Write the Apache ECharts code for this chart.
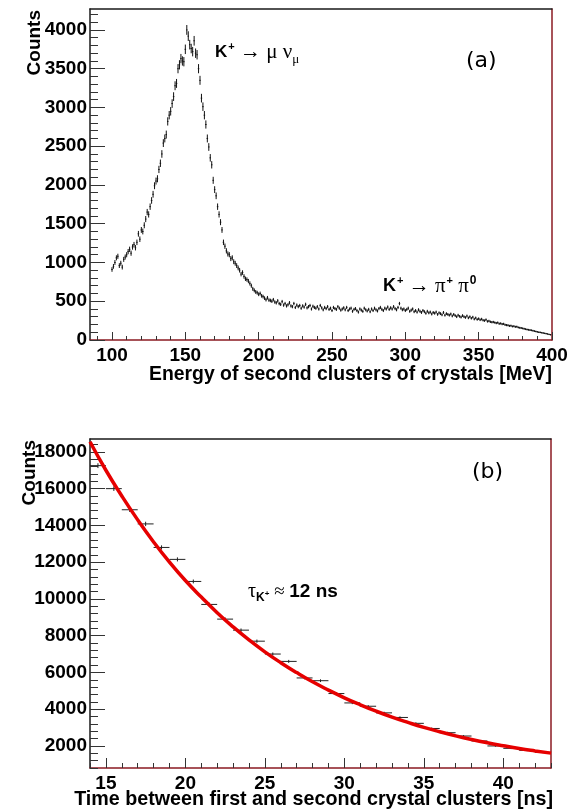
<!DOCTYPE html>
<html>
<head>
<meta charset="utf-8">
<script src="https://cdn.jsdelivr.net/npm/echarts@6/dist/echarts.min.js"></script>
<style>
html,body{margin:0;padding:0;background:#fff;}
#chart{width:574px;height:812px;}
</style>
</head>
<body>
<div id="chart"></div>
<script>
// ---------- Panel (a): energy spectrum, 1 MeV bins starting at 100 MeV ----------
const energyStart = 100;
const energyBinWidth = 1;
const energyCounts = [
  910, 950, 1000, 1060, 1080, 960, 990, 940, 1040, 1070,
  1100, 1140, 1170, 1120, 1200, 1230, 1190, 1260, 1370, 1300,
  1420, 1400, 1480, 1560, 1650, 1620, 1720, 1800, 1880, 1990,
  2050, 2080, 2200, 2280, 2400, 2540, 2600, 2650, 2820, 2900,
  2950, 3050, 3140, 3280, 3310, 3500, 3550, 3630, 3600, 3590,
  3750, 4000, 3920, 3810, 3760, 3720, 3860, 3700, 3680, 3500,
  3350, 3120, 3010, 2900, 2780, 2600, 2490, 2350, 2260, 2060,
  1940, 1860, 1720, 1620, 1520, 1420, 1260, 1210, 1150, 1110,
  1100, 1050, 1060, 1010, 990, 960, 930, 900, 850, 870,
  820, 790, 780, 760, 730, 700, 660, 640, 620, 610,
  590, 600, 570, 560, 540, 520, 545, 515, 510, 500,
  520, 490, 480, 505, 470, 460, 495, 450, 470, 440,
  455, 480, 440, 430, 470, 420, 450, 430, 445, 410,
  440, 425, 460, 415, 430, 445, 400, 435, 420, 410,
  430, 400, 445, 415, 390, 420, 405, 430, 395, 410,
  380, 420, 405, 395, 430, 410, 385, 400, 415, 390,
  420, 380, 400, 410, 370, 395, 405, 380, 360, 400,
  385, 370, 410, 390, 375, 395, 365, 400, 380, 410,
  390, 375, 405, 420, 395, 380, 410, 400, 425, 395,
  415, 400, 430, 405, 390, 420, 470, 410, 390, 400,
  380, 395, 410, 370, 385, 400, 365, 380, 360, 390,
  370, 355, 380, 365, 345, 370, 350, 360, 335, 355,
  345, 360, 330, 350, 340, 325, 355, 320, 340, 330,
  320, 335, 310, 330, 315, 300, 320, 305, 295, 315,
  300, 290, 310, 285, 300, 280, 295, 270, 285, 265,
  275, 260, 270, 255, 250, 262, 240, 245, 235, 230,
  232, 225, 218, 224, 210, 214, 205, 208, 196, 192,
  190, 182, 185, 175, 178, 170, 172, 162, 158, 155,
  150, 145, 140, 135, 132, 128, 125, 120, 115, 110,
  105, 100, 98, 94, 90, 86, 82, 78, 72, 68
];
const energyTicks = [100, 150, 200, 250, 300, 350, 400];
const countsTicksA = [0, 500, 1000, 1500, 2000, 2500, 3000, 3500, 4000];

// ---------- Panel (b): time between clusters, 1 ns bins ----------
const timeBinCenters = [14.5, 15.5, 16.5, 17.5, 18.5, 19.5, 20.5, 21.5, 22.5, 23.5,
  24.5, 25.5, 26.5, 27.5, 28.5, 29.5, 30.5, 31.5, 32.5, 33.5,
  34.5, 35.5, 36.5, 37.5, 38.5, 39.5, 40.5, 41.5, 42.5];
const timeCounts = [17250, 16000, 14850, 14080, 12800, 12150, 10950, 9700, 8900, 8300,
  7700, 7000, 6600, 5700, 5550, 4850, 4340, 4160, 3800, 3550,
  3230, 2950, 2720, 2540, 2270, 2000, 1870, 1760, 1650];
const fitTimes = [14, 15, 16, 17, 18, 19, 20, 21, 22, 23, 24, 25, 26, 27, 28, 29,
  30, 31, 32, 33, 34, 35, 36, 37, 38, 39, 40, 41, 42, 43];
const fitCounts = [18550, 17000, 15600, 14300, 13100, 12000, 11000, 10100, 9250, 8480,
  7770, 7120, 6530, 5990, 5490, 5040, 4620, 4240, 3890, 3570,
  3280, 3010, 2770, 2550, 2350, 2170, 2010, 1860, 1730, 1610];
const timeTicks = [15, 20, 25, 30, 35, 40];
const countsTicksB = [2000, 4000, 6000, 8000, 10000, 12000, 14000, 16000, 18000];

// ---------- helpers ----------
function minorBetween(lo, hi, step, majors) {
  const out = [];
  for (let v = lo; v <= hi + 1e-9; v += step) {
    const r = Math.round(v * 1000) / 1000;
    if (!majors.some(m => Math.abs(m - r) < 1e-6)) out.push(r);
  }
  return out;
}
const energyMinor = minorBetween(90, 400, 10, energyTicks);
const countsMinorA = minorBetween(100, 4200, 100, countsTicksA);
const timeMinor = minorBetween(14, 43, 1, timeTicks);
const countsMinorB = minorBetween(800, 18600, 400, countsTicksB);

const FRAME_DARK = '#1a1a1a';
const FRAME_RED = '#8b1a22';
const LABEL_FONT = {fontFamily: 'Liberation Sans', fontWeight: 'bold', fontSize: 19, color: '#000',
  formatter: function (v) { return String(v); }};

function xAxes(grid, min, max, majors, minors, majorLen, minorLen) {
  return [
    {type: 'value', gridIndex: grid, min: min, max: max, position: 'bottom',
     axisLine: {show: true, onZero: false, lineStyle: {color: FRAME_RED, width: 1.5}},
     axisTick: {show: true, inside: true, length: majorLen, customValues: majors, lineStyle: {color: '#333', width: 1}},
     axisLabel: Object.assign({customValues: majors, margin: 6}, LABEL_FONT),
     splitLine: {show: false}},
    {type: 'value', gridIndex: grid, min: min, max: max, position: 'bottom',
     axisLine: {show: false},
     axisTick: {show: true, inside: true, length: minorLen, customValues: minors, lineStyle: {color: '#333', width: 1}},
     axisLabel: {show: false}, splitLine: {show: false}},
    {type: 'value', gridIndex: grid, min: min, max: max, position: 'top',
     axisLine: {show: true, onZero: false, lineStyle: {color: FRAME_DARK, width: 1.5}},
     axisTick: {show: false}, axisLabel: {show: false}, splitLine: {show: false}}
  ];
}
function yAxes(grid, min, max, majors, minors, majorLen, minorLen) {
  return [
    {type: 'value', gridIndex: grid, min: min, max: max, position: 'left',
     axisLine: {show: true, onZero: false, lineStyle: {color: FRAME_DARK, width: 1.5}},
     axisTick: {show: true, inside: true, length: majorLen, customValues: majors, lineStyle: {color: '#333', width: 1}},
     axisLabel: Object.assign({customValues: majors, margin: 3}, LABEL_FONT),
     splitLine: {show: false}},
    {type: 'value', gridIndex: grid, min: min, max: max, position: 'left',
     axisLine: {show: false},
     axisTick: {show: true, inside: true, length: minorLen, customValues: minors, lineStyle: {color: '#333', width: 1}},
     axisLabel: {show: false}, splitLine: {show: false}},
    {type: 'value', gridIndex: grid, min: min, max: max, position: 'right',
     axisLine: {show: true, onZero: false, lineStyle: {color: FRAME_RED, width: 1.5}},
     axisTick: {show: false}, axisLabel: {show: false}, splitLine: {show: false}}
  ];
}

function errorBars(color, lw) {
  return function (params, api) {
    const x = api.value(0), y = api.value(1), ex = api.value(2), ey = api.value(3);
    const a = api.coord([x - ex, y]), b = api.coord([x + ex, y]);
    const c = api.coord([x, y - ey]), d = api.coord([x, y + ey]);
    return {
      type: 'group',
      children: [
        {type: 'line', shape: {x1: a[0], y1: a[1], x2: b[0], y2: b[1]}, style: {stroke: color, lineWidth: lw}},
        {type: 'line', shape: {x1: c[0], y1: c[1], x2: d[0], y2: d[1]}, style: {stroke: color, lineWidth: lw}}
      ]
    };
  };
}

const energyData = energyCounts.map((n, i) => [energyStart + i * energyBinWidth, n, energyBinWidth / 2, Math.sqrt(n)]);
const timeData = timeCounts.map((n, i) => [timeBinCenters[i], n, 0.5, Math.sqrt(n)]);
const fitData = fitTimes.map((t, i) => [t, fitCounts[i]]);

const chart = echarts.init(document.getElementById('chart'), null, {renderer: 'canvas'});

const serif = 'Liberation Serif';
const sans = 'Liberation Sans';

chart.setOption({
  animation: false,
  backgroundColor: '#fff',
  grid: [
    {left: 90, top: 9, width: 462, height: 331},
    {left: 90, top: 439, width: 461, height: 329}
  ],
  xAxis: [].concat(
    xAxes(0, 85, 400, energyTicks, energyMinor, 8, 4),
    xAxes(1, 14, 43, timeTicks, timeMinor, 10, 5)
  ),
  yAxis: [].concat(
    yAxes(0, 0, 4270, countsTicksA, countsMinorA, 15, 8),
    yAxes(1, 800, 18700, countsTicksB, countsMinorB, 15, 8)
  ),
  series: [
    {type: 'custom', xAxisIndex: 0, yAxisIndex: 0, clip: true,
     renderItem: errorBars('#111', 1), data: energyData},
    {type: 'custom', xAxisIndex: 3, yAxisIndex: 3, clip: true,
     renderItem: errorBars('#222', 1), data: timeData},
    {type: 'line', xAxisIndex: 3, yAxisIndex: 3, clip: true, smooth: true, showSymbol: false, symbol: 'none',
     lineStyle: {color: '#e60000', width: 3.5}, data: fitData, z: 5}
  ],
  graphic: [
    // axis titles
    {type: 'text', x: 35, y: 10, rotation: Math.PI / 2,
     style: {text: 'Counts', font: 'bold 19px "Liberation Sans"', fill: '#000', align: 'right', verticalAlign: 'middle'}},
    {type: 'text', x: 30, y: 440, rotation: Math.PI / 2,
     style: {text: 'Counts', font: 'bold 19px "Liberation Sans"', fill: '#000', align: 'right', verticalAlign: 'middle'}},
    {type: 'text', x: 552, y: 375,
     style: {text: 'Energy of second clusters of crystals [MeV]', font: 'bold 19.4px "Liberation Sans"', fill: '#000', align: 'right', verticalAlign: 'middle'}},
    {type: 'text', x: 553, y: 800,
     style: {text: 'Time between first and second crystal clusters [ns]', font: 'bold 19.7px "Liberation Sans"', fill: '#000', align: 'right', verticalAlign: 'middle'}},
    // panel labels
    {type: 'text', x: 466, y: 61,
     style: {text: '(a)', font: '22px "DejaVu Sans"', fill: '#000', align: 'left', verticalAlign: 'middle'}},
    {type: 'text', x: 472, y: 472,
     style: {text: '(b)', font: '22px "DejaVu Sans"', fill: '#000', align: 'left', verticalAlign: 'middle'}},
    // annotations
    {type: 'text', x: 215, y: 52,
     style: {
       text: '{k|K}{sup|+}{s| → μ ν}{sub|μ}', align: 'left', verticalAlign: 'middle', fill: '#000',
       rich: {
         k: {fontFamily: sans, fontWeight: 'bold', fontSize: 17, lineHeight: 28, verticalAlign: 'middle'},
         sup: {fontFamily: sans, fontWeight: 'bold', fontSize: 11, lineHeight: 28, verticalAlign: 'top', padding: [3, 0, 0, 1]},
         s: {fontFamily: serif, fontSize: 21, lineHeight: 28, verticalAlign: 'middle'},
         sub: {fontFamily: serif, fontSize: 13, lineHeight: 28, verticalAlign: 'bottom'}
       }
     }},
    {type: 'text', x: 383, y: 286,
     style: {
       text: '{k|K}{sup|+}{s| → π}{sup|+}{s| π}{sup0|0}', align: 'left', verticalAlign: 'middle', fill: '#000',
       rich: {
         k: {fontFamily: sans, fontWeight: 'bold', fontSize: 18, lineHeight: 28, verticalAlign: 'middle'},
         sup: {fontFamily: sans, fontWeight: 'bold', fontSize: 11, lineHeight: 28, verticalAlign: 'top', padding: [3, 0, 0, 1]},
         sup0: {fontFamily: sans, fontWeight: 'bold', fontSize: 12, lineHeight: 28, verticalAlign: 'top', padding: [3, 0, 0, 1]},
         s: {fontFamily: serif, fontSize: 21, lineHeight: 28, verticalAlign: 'middle'}
       }
     }},
    {type: 'text', x: 248, y: 592,
     style: {
       text: '{t|τ}{sub|K}{subsup|+}{s| ≈ }{b|12 ns}', align: 'left', verticalAlign: 'middle', fill: '#000',
       rich: {
         t: {fontFamily: serif, fontSize: 20, lineHeight: 28, verticalAlign: 'middle'},
         sub: {fontFamily: sans, fontWeight: 'bold', fontSize: 12, lineHeight: 28, verticalAlign: 'bottom', padding: [0, 0, 2, 0]},
         subsup: {fontFamily: sans, fontWeight: 'bold', fontSize: 8, lineHeight: 28, verticalAlign: 'bottom', padding: [0, 0, 8, 0]},
         s: {fontFamily: serif, fontSize: 19, lineHeight: 28, verticalAlign: 'middle'},
         b: {fontFamily: sans, fontWeight: 'bold', fontSize: 19, lineHeight: 28, verticalAlign: 'middle'}
       }
     }}
  ]
});
</script>
</body>
</html>
